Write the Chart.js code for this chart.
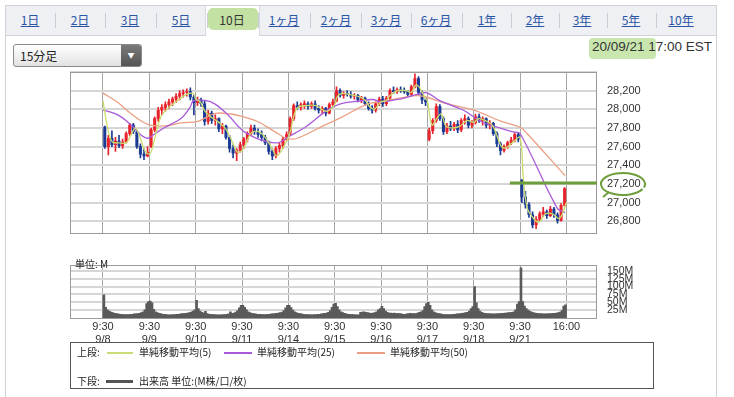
<!DOCTYPE html>
<html><head><meta charset="utf-8">
<script src="https://cdn.jsdelivr.net/npm/chart.js@4.4.1/dist/chart.umd.min.js"></script>
<style>
body{margin:0;width:734px;height:397px;overflow:hidden;background:#fff;position:relative;font-family:"Liberation Sans",Arial,"Noto Sans CJK JP",sans-serif;color:#222}
.abs{position:absolute}
#frame{left:5px;top:5px;width:712px;height:400px;border:1px solid #cfd3d8;box-sizing:border-box}
#tabbar{left:6px;top:6px;width:710px;height:29px;background:#eef0f4;border-bottom:1px solid #cfd3d8}
.tab{position:absolute;top:13px;font-size:12px;color:#2a55a5;text-decoration:underline;transform:translateX(-50%);white-space:nowrap;font-family:"Noto Sans CJK JP",sans-serif;line-height:14px}
.sep{position:absolute;top:13px;width:1px;height:15px;background:#c9cdd3}
#sel{left:205px;top:6px;width:53px;height:30px;background:#fff;border-left:1px solid #d6d9de;border-right:1px solid #d6d9de}
#selhl{left:208px;top:8px;width:50px;height:22px;background:rgba(145,200,85,0.55);border-radius:5px}
#dd{left:13px;top:44px;width:129px;height:23px;border:1px solid #8a8a8a;border-radius:3px;box-sizing:border-box;background:linear-gradient(#ffffff,#e2e2e2);font-size:12px;line-height:21px;padding-left:6px;font-family:"Noto Sans CJK JP",sans-serif}
#ddbtn{right:0;top:0;width:20px;height:21px;background:linear-gradient(#7a7a7a,#555);border-radius:0 2px 2px 0;color:#fff;font-size:7px;text-align:center;line-height:21px}
#ts{right:22px;top:39px;font-size:13.5px;color:#333;white-space:nowrap}
#tshl{left:589px;top:38px;width:67px;height:21px;background:rgba(150,205,95,0.5);border-radius:4px}
#unit{left:75px;top:256px;font-size:10px;color:#222;font-family:"Noto Sans CJK JP",sans-serif}
#legend{left:70px;top:342px;width:584px;height:47px;border:1.5px solid #555;box-sizing:border-box}
.lg{position:absolute;font-size:10px;color:#222;white-space:nowrap;font-family:"Noto Sans CJK JP",sans-serif;line-height:12px}
.ln{position:absolute;height:2px}
canvas{position:absolute;left:0}
</style></head><body>
<div id="frame" class="abs"></div>
<div id="tabbar" class="abs"></div>
<div id="sel" class="abs"></div>
<div id="selhl" class="abs"></div>
<div id="tabs"></div>
<div id="dd" class="abs">15分足<div id="ddbtn" class="abs">▼</div></div>
<div id="tshl" class="abs"></div>
<div id="ts" class="abs">20/09/21 17:00 EST</div>
<canvas id="c1" width="734" height="250" style="top:0"></canvas>
<canvas id="c2" width="734" height="100" style="top:250px"></canvas>
<div id="unit" class="abs">単位: M</div>
<div id="legend" class="abs">
  <div class="lg" style="left:6px;top:3px">上段:</div>
  <div class="ln" style="left:36px;top:9px;width:26px;background:#c9dd78"></div>
  <div class="lg" style="left:68px;top:3px">単純移動平均(5)</div>
  <div class="ln" style="left:153px;top:9px;width:28px;background:#a95ad8"></div>
  <div class="lg" style="left:186px;top:3px">単純移動平均(25)</div>
  <div class="ln" style="left:286px;top:9px;width:28px;background:#ec9f82"></div>
  <div class="lg" style="left:319px;top:3px">単純移動平均(50)</div>
  <div class="lg" style="left:6px;top:32px">下段:</div>
  <div class="ln" style="left:35px;top:37px;width:27px;height:3px;background:#555"></div>
  <div class="lg" style="left:68px;top:32px">出来高 単位:(M株/口/枚)</div>
</div>
<script>
// ---------- data ----------
const tabLabels = ['1日','2日','3日','5日','10日','1ヶ月','2ヶ月','3ヶ月','6ヶ月','1年','2年','3年','5年','10年'];
const tabCenters = [30,80,130,181,232,284,336,386,436,487,535,582,631,681];
const selectedTab = '10日';

const dayLabels = ['9/8','9/9','9/10','9/11','9/14','9/15','9/16','9/17','9/18','9/21'];
const openLabel = '9:30';
const closeLabel = '16:00';
const priceTicks = [26800,27000,27200,27400,27600,27800,28000,28200];
const volTicks = [25,50,75,100,125,150];
const markedLevel = 27210;

// 30-minute candles, 13 per day
const opens = [
 27810,27600,27690,27620,27660,27610,27650,27740,27830,27760,27600,27520,27500,
 27600,27780,27900,27990,28020,28050,28080,28110,28140,28170,28180,28190,28130,
 28070,28100,28060,27870,27960,27880,27900,27790,27820,27700,27580,27530,27560,
 27620,27680,27740,27800,27760,27730,27700,27640,27550,27500,27580,27610,27680,
 27740,27900,28040,28020,28050,28060,28030,28060,28010,27990,28010,27960,28050,
 28090,28200,28150,28170,28160,28140,28150,28100,28120,28060,28010,27990,28060,
 28110,28060,28120,28200,28190,28210,28200,28190,28160,28240,28330,28180,28100,
 27680,27770,27880,28030,27900,27760,27820,27790,27840,27780,27880,27900,27830,
 27860,27920,27880,27900,27830,27850,27740,27630,27560,27600,27640,27670,27730,
 27240,27060,26980,26870,26760,26820,26880,26900,26860,26930,26870,26810,26970];
const highs = [
 27820,27720,27770,27700,27720,27680,27760,27850,27850,27770,27630,27580,27600,
 27800,27920,28020,28050,28080,28110,28130,28170,28200,28210,28220,28230,28150,
 28130,28120,28090,27990,27980,27940,27910,27850,27830,27720,27620,27580,27650,
 27700,27760,27830,27830,27790,27770,27720,27660,27580,27600,27640,27700,27760,
 27920,28060,28080,28070,28090,28080,28080,28090,28040,28030,28020,28070,28110,
 28240,28220,28190,28200,28190,28170,28160,28140,28130,28080,28040,28080,28130,
 28140,28140,28220,28240,28230,28240,28230,28200,28260,28380,28350,28200,28120,
 27800,27900,28060,28050,27920,27850,27870,27860,27880,27900,27940,27920,27880,
 27950,27950,27920,27910,27880,27860,27760,27650,27620,27660,27700,27750,27750,
 27250,27120,27000,26900,26850,26900,26950,26920,26960,26950,26890,26990,27160];
const lows = [
 27580,27510,27600,27550,27590,27580,27640,27720,27740,27580,27480,27460,27490,
 27590,27760,27870,27940,27980,28010,28040,28070,28100,28130,28140,28100,27940,
 28040,28030,27830,27840,27850,27830,27760,27740,27680,27540,27480,27450,27540,
 27580,27650,27720,27730,27700,27660,27620,27520,27460,27480,27540,27580,27660,
 27720,27880,28000,27990,28010,28000,28010,27990,27960,27950,27930,27950,28030,
 28080,28130,28120,28140,28120,28110,28080,28070,28040,27990,27960,27970,28040,
 28030,28040,28100,28170,28170,28180,28170,28140,28150,28230,28150,28060,28040,
 27660,27740,27860,27880,27730,27740,27770,27770,27750,27760,27840,27800,27800,
 27840,27860,27830,27800,27790,27720,27600,27510,27540,27580,27620,27650,27650,
 27000,26940,26840,26730,26720,26800,26850,26830,26850,26840,26780,26800,26960];
const closes = [
 27600,27690,27620,27660,27610,27650,27740,27830,27760,27600,27520,27500,27540,
 27780,27900,27990,28020,28050,28080,28110,28140,28170,28180,28190,28130,28070,
 28100,28060,27870,27960,27880,27900,27790,27820,27700,27580,27530,27560,27620,
 27680,27740,27800,27760,27730,27700,27640,27550,27500,27580,27610,27680,27730,
 27900,28040,28020,28050,28060,28030,28060,28010,27990,28010,27960,28050,28080,
 28200,28150,28170,28160,28140,28150,28100,28120,28060,28010,27990,28060,28110,
 28060,28120,28200,28190,28210,28200,28190,28160,28240,28330,28180,28100,28080,
 27770,27880,28030,27900,27760,27820,27790,27840,27780,27880,27900,27830,27860,
 27920,27880,27900,27830,27850,27740,27630,27560,27600,27640,27670,27730,27680,
 27060,26980,26870,26760,26820,26880,26900,26860,26930,26870,26810,26970,27150];

// moving averages: [day position, value]
const ma5 = [[0,28090],[0.1,27800],[0.2,27650],[0.35,27640],[0.5,27640],[0.6,27720],[0.7,27800],[0.8,27700],[0.9,27560],[1.0,27520],
 [1.05,27560],[1.15,27750],[1.25,27920],[1.4,28010],[1.6,28090],[1.8,28160],[1.95,28170],[2.0,28110],
 [2.1,28080],[2.2,27980],[2.35,27910],[2.5,27860],[2.65,27790],[2.8,27640],[2.9,27540],[3.0,27560],
 [3.1,27650],[3.2,27750],[3.35,27760],[3.5,27700],[3.65,27580],[3.75,27500],[3.9,27600],[4.0,27700],
 [4.05,27780],[4.12,27930],[4.2,28020],[4.4,28040],[4.6,28040],[4.75,27990],[4.85,27980],[5.0,28050],
 [5.05,28130],[5.15,28170],[5.3,28160],[5.5,28140],[5.65,28100],[5.75,28030],[5.85,28000],[6.0,28080],
 [6.1,28090],[6.2,28150],[6.35,28200],[6.55,28200],[6.65,28180],[6.75,28260],[6.85,28220],[6.95,28120],[7.0,28090],
 [7.03,28000],[7.1,27830],[7.2,27900],[7.3,27950],[7.4,27820],[7.55,27800],[7.7,27820],[7.85,27880],[8.0,27860],
 [8.1,27900],[8.25,27880],[8.4,27830],[8.5,27720],[8.6,27600],[8.7,27590],[8.85,27650],[9.0,27700],
 [9.07,27260],[9.15,26950],[9.26,26850],[9.4,26790],[9.55,26880],[9.7,26880],[9.85,26830],[10.0,27000]];
const ma25 = [[0,27993],[0.32,27940],[0.6,27835],[0.82,27725],[0.97,27690],[1.12,27738],[1.33,27805],[1.69,27905],[1.88,28023],[1.95,28090],
 [2.2,28095],[2.42,28056],[2.7,27939],[2.91,27822],[3.06,27755],[3.39,27674],[3.76,27641],[4.01,27708],[4.4,27822],[4.83,27989],
 [5.11,28056],[5.54,28089],[5.83,28105],[5.98,28080],[6.41,28110],[6.78,28160],[6.99,28177],[7.27,28093],[7.77,27993],[8.14,27875],
 [8.5,27808],[8.85,27758],[9.0,27741],[9.8,26941],[9.97,26893]];
const ma50 = [[0,28174],[0.32,28073],[0.6,27956],[0.97,27838],[1.34,27822],[1.68,27855],[2.05,27872],[2.42,27956],[2.76,27950],[2.96,27930],
 [3.32,27872],[3.67,27772],[3.97,27688],[4.19,27690],[4.75,27822],[5.11,27905],[5.7,28056],[5.98,28080],[6.69,28144],[6.91,28140],
 [7.42,28060],[7.99,27993],[8.57,27875],[9.0,27808],[9.15,27741],[9.97,27290]];

// 15-minute volume (M), 26 per day
const volume = [
 74,34,26,22,19,17,15,14,13,12,12,11,11,11,11,12,12,13,13,14,15,17,20,26,46,52,
 54,48,28,20,17,15,14,12,12,11,10,10,10,11,11,12,12,13,14,14,15,16,17,19,22,26,
 56,30,22,18,16,21,14,12,12,11,11,10,10,10,10,11,11,12,13,20,15,16,19,24,32,40,
 40,34,26,20,17,15,14,13,12,12,12,11,11,11,12,12,13,13,14,15,16,17,19,24,32,40,
 40,33,25,20,17,15,14,13,12,11,11,11,10,10,11,11,12,12,13,14,15,16,18,24,34,44,
 47,36,26,20,17,15,13,12,12,11,11,10,10,10,18,19,20,18,17,16,15,16,17,20,26,30,
 37,30,22,18,16,16,15,16,14,15,14,13,12,12,13,14,15,14,14,14,16,18,20,24,36,46,
 50,40,26,20,17,15,14,13,12,11,11,11,11,11,12,12,13,13,14,15,16,17,18,22,30,36,
 100,48,30,22,18,16,15,14,14,13,13,13,13,14,14,15,15,16,16,17,17,18,20,26,44,52,
 160,52,38,30,25,21,19,17,16,15,14,14,13,13,13,13,14,14,15,15,16,17,19,24,38,42];

// ---------- page chrome ----------
const tabsEl = document.getElementById('tabs');
tabLabels.forEach((t,i)=>{
  const s=document.createElement('div');s.className='tab';s.textContent=t;s.style.left=tabCenters[i]+'px';
  if(t===selectedTab){s.style.color='#333';s.style.textDecoration='none';}
  tabsEl.appendChild(s);
  if(i<tabLabels.length-1){const d=document.createElement('div');d.className='sep';d.style.left=Math.round((tabCenters[i]+tabCenters[i+1])/2)+'px';tabsEl.appendChild(d);}
});

// ---------- charts ----------
const XMIN=-0.712, XMAX=10.66, PER_DAY=13, VOL_PER_DAY=26;
const UP='#e8232b', DOWN='#1c3b94';
const FONT="'Liberation Sans', Arial, sans-serif";
const dayTicks = dayLabels.map((_,i)=>i).concat([dayLabels.length]);
const cx = i => Math.floor(i/PER_DAY) + ((i%PER_DAY)+0.5)/PER_DAY;
const candleColor = c => closes[c.dataIndex] >= opens[c.dataIndex] ? UP : DOWN;

const framePlugin = {id:'frame', afterDraw(ch){const a=ch.chartArea,c=ch.ctx;c.save();c.strokeStyle='#9a9a9a';c.lineWidth=1;c.strokeRect(Math.round(a.left)+0.5,Math.round(a.top)+0.5,Math.round(a.right-a.left)-1,Math.round(a.bottom-a.top));c.restore();}};
const markPlugin = {id:'mark', afterDraw(ch){
  const c=ch.ctx,y=ch.scales.y.getPixelForValue(markedLevel),x0=ch.scales.x.getPixelForValue(8.78),x1=ch.chartArea.right;
  c.save();c.strokeStyle='#6e9d3c';c.lineWidth=3;c.beginPath();c.moveTo(x0,y);c.lineTo(x1,y);c.stroke();
  c.lineWidth=2;c.beginPath();c.ellipse(x1+26,y+1,22,11,0,0.15*Math.PI,2.1*Math.PI);c.stroke();
  c.beginPath();c.moveTo(x1+12,y+9);c.lineTo(x1+6,y+14);c.stroke();c.restore();}};

const lineDs = (pts,color,w)=>({type:'line',data:pts.map(p=>({x:p[0],y:p[1]})),borderColor:color,borderWidth:w,pointRadius:0,tension:0.35,order:0});

new Chart(document.getElementById('c1'),{
  type:'bar',
  data:{datasets:[
    lineDs(ma5,'#c9dd6e',1.3),
    lineDs(ma25,'#a95ad8',1.3),
    lineDs(ma50,'#ec9f82',1.3),
    {type:'bar',data:opens.map((o,i)=>({x:cx(i),y:[o,closes[i]]})),backgroundColor:candleColor,barThickness:2.4,minBarLength:1,grouped:false,order:1},
    {type:'bar',data:lows.map((l,i)=>({x:cx(i),y:[l,highs[i]]})),backgroundColor:candleColor,barThickness:1,grouped:false,order:2}
  ]},
  options:{responsive:false,animation:false,events:[],
    layout:{padding:{left:70,top:72,right:0,bottom:5}},
    plugins:{legend:{display:false},tooltip:{enabled:false}},
    scales:{
      x:{type:'linear',min:XMIN,max:XMAX,offset:false,grid:{offset:false,color:'#a6a6a6',lineWidth:1,drawTicks:false},border:{display:false},ticks:{display:false},
         afterBuildTicks:ax=>{ax.ticks=dayTicks.map(v=>({value:v}));},afterFit:ax=>{ax.height=0;}},
      y:{position:'right',min:26670,max:28400,grid:{color:'#d6d6d6',lineWidth:2,drawTicks:false},border:{display:false},
         ticks:{padding:10,color:'#333',autoSkip:false,font:{size:11,family:FONT},callback:v=>priceTicks.includes(v)?v.toLocaleString('en-US'):''},
         afterBuildTicks:ax=>{ax.ticks=priceTicks.concat([28400]).map(v=>({value:v}));},afterFit:ax=>{ax.width=137;}}
    }},
  plugins:[framePlugin,markPlugin]
});

new Chart(document.getElementById('c2'),{
  type:'bar',
  data:{datasets:[{data:volume.map((v,j)=>({x:Math.floor(j/VOL_PER_DAY)+((j%VOL_PER_DAY)+0.5)/VOL_PER_DAY,y:v})),backgroundColor:'#5a5a5a',barThickness:2,grouped:false}]},
  options:{responsive:false,animation:false,events:[],
    layout:{padding:{left:70,top:5,right:0,bottom:0}},
    plugins:{legend:{display:false},tooltip:{enabled:false}},
    scales:{
      x:{type:'linear',min:XMIN,max:XMAX,offset:false,grid:{offset:false,color:'#a6a6a6',lineWidth:1,drawTicks:false},border:{display:false},
         ticks:{padding:2,color:'#333',autoSkip:false,maxRotation:0,font:{size:11,family:FONT,lineHeight:1.2},
           callback:(v,i)=> i<dayLabels.length ? [openLabel,dayLabels[i]] : closeLabel},
         afterBuildTicks:ax=>{ax.ticks=dayTicks.map(v=>({value:v}));},afterFit:ax=>{ax.height=32;}},
      y:{position:'right',min:0,max:168,grid:{color:'#d6d6d6',lineWidth:2,drawTicks:false},border:{display:false},
         ticks:{padding:10,color:'#333',autoSkip:false,font:{size:10.5,family:FONT,lineHeight:1},callback:v=>volTicks.includes(v)?v+'M':''},
         afterBuildTicks:ax=>{ax.ticks=volTicks.map(v=>({value:v}));},afterFit:ax=>{ax.width=137;}}
    }},
  plugins:[framePlugin]
});
</script>
</body></html>
